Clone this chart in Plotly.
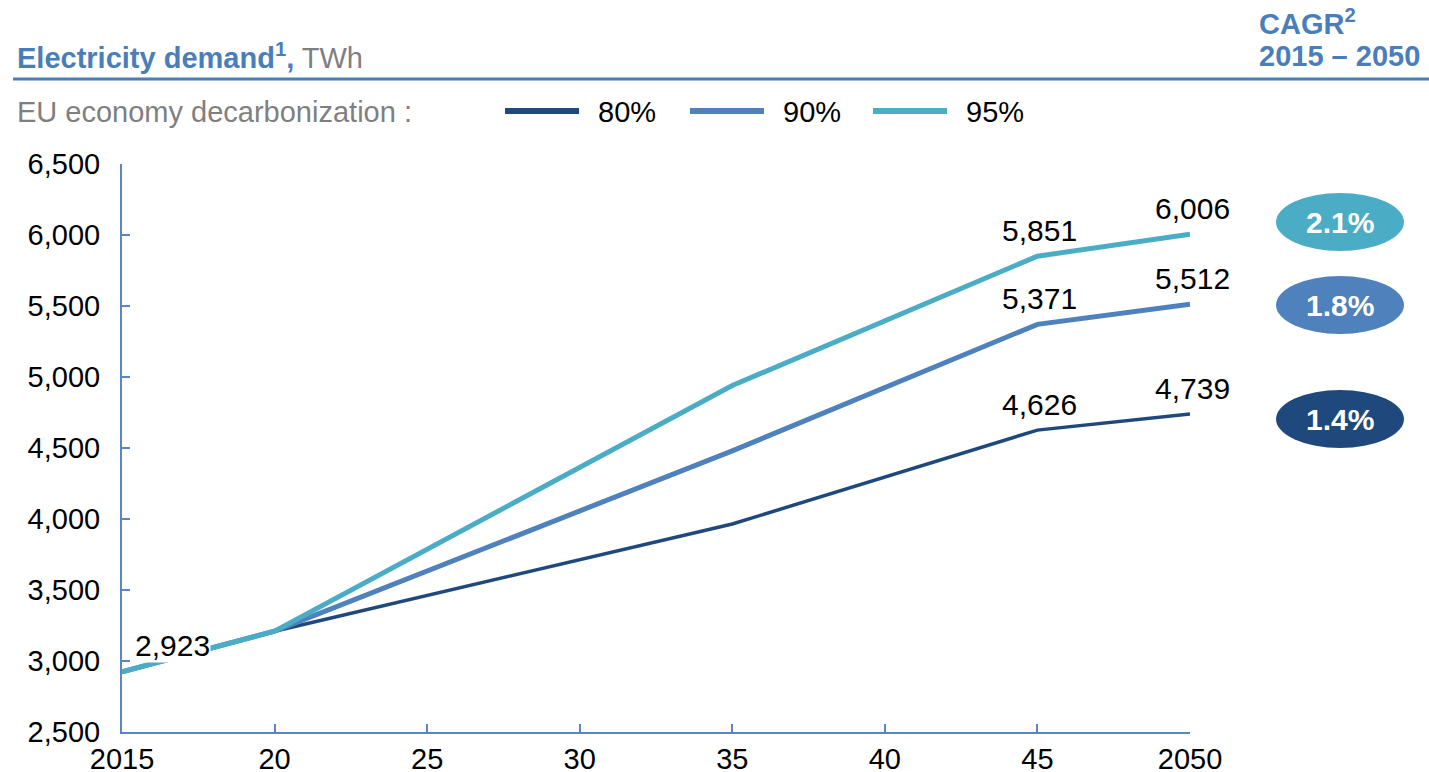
import plotly.graph_objects as go

years = [2015, 2020, 2035, 2045, 2050]
series_names = ["80%", "90%", "95%"]
demand_80 = [2923, 3210, 3965, 4626, 4739]
demand_90 = [2923, 3210, 4480, 5371, 5512]
demand_95 = [2923, 3210, 4940, 5851, 6006]
cagr = ["1.4%", "1.8%", "2.1%"]
colors = ["#1F497D", "#4F81BD", "#4BACC6"]
widths = [3.5, 5, 5]
x_tickvals = [2015, 2020, 2025, 2030, 2035, 2040, 2045, 2050]
x_ticktext = ["2015", "20", "25", "30", "35", "40", "45", "2050"]
y_tickvals = [2500, 3000, 3500, 4000, 4500, 5000, 5500, 6000, 6500]

W, H = 1429, 772
L, R, T, B = 122, 1190, 164, 732

def px(x):
    return (x - L) / (R - L)

def py(y):
    return (B - y) / (B - T)

FONT = "Liberation Sans, Arial, sans-serif"
fig = go.Figure()
all_series = [demand_80, demand_90, demand_95]
for name, vals, c, w in zip(series_names, all_series, colors, widths):
    fig.add_trace(go.Scatter(x=years, y=vals, mode="lines", name=name,
                             line=dict(color=c, width=w), cliponaxis=False,
                             showlegend=False, hoverinfo="skip"))

# data labels at 2045 and 2050
for vals in all_series:
    for i in (3, 4):
        fig.add_annotation(x=years[i], y=vals[i], text=f"{vals[i]:,}", showarrow=False,
                           yanchor="bottom", yshift=7, xshift=2,
                           font=dict(family=FONT, size=30, color="black"))
# 2015 label with white background
fig.add_annotation(x=years[0], y=demand_80[0], text=f"{demand_80[0]:,}", showarrow=False,
                   xanchor="center", yanchor="middle", xshift=50, yshift=26,
                   bgcolor="white", borderpad=0,
                   font=dict(family=FONT, size=30, color="black"))

axis_color = "#5B86C5"
fig.update_xaxes(range=[2015, 2050], tickvals=x_tickvals, ticktext=x_ticktext,
                 showgrid=False, zeroline=False, showline=True, linecolor=axis_color,
                 linewidth=2, ticks="inside", ticklen=8, tickcolor=axis_color, tickwidth=2,
                 automargin=False,
                 tickfont=dict(family=FONT, size=29, color="black"))
fig.update_yaxes(range=[2500, 6500], tickvals=y_tickvals, tickformat=",",
                 showgrid=False, zeroline=False, showline=True, linecolor=axis_color,
                 linewidth=2, ticks="inside", ticklen=8, tickcolor=axis_color, tickwidth=2,
                 automargin=False, ticklabelstandoff=14,
                 tickfont=dict(family=FONT, size=29, color="black"))

blue = "#4A7EBB"
# Title
fig.add_annotation(xref="paper", yref="paper", x=px(15), y=py(56), xanchor="left", yanchor="middle",
                   text="<b>Electricity demand<sup style='font-size:20px'>1</sup>,</b> <span style='color:#7F7F7F'>TWh</span>",
                   showarrow=False, font=dict(family=FONT, size=29, color=blue))
fig.add_annotation(xref="paper", yref="paper", x=px(1257), y=py(22), xanchor="left", yanchor="middle",
                   text="<b>CAGR<sup style='font-size:20px'>2</sup></b>",
                   showarrow=False, font=dict(family=FONT, size=29, color=blue))
fig.add_annotation(xref="paper", yref="paper", x=px(1257), y=py(56), xanchor="left", yanchor="middle",
                   text="<b>2015 – 2050</b>",
                   showarrow=False, font=dict(family=FONT, size=29, color=blue))
fig.add_shape(type="line", xref="paper", yref="paper", x0=px(13), x1=px(1429), y0=py(79), y1=py(79),
              line=dict(color=blue, width=3))
# Legend row
fig.add_annotation(xref="paper", yref="paper", x=px(15), y=py(112), xanchor="left", yanchor="middle",
                   text="EU economy decarbonization :", showarrow=False,
                   font=dict(family=FONT, size=29, color="#7F7F7F"))
leg_x = [505, 690, 873]
for name, c, lx in zip(series_names, colors, leg_x):
    fig.add_shape(type="line", xref="paper", yref="paper", x0=px(lx), x1=px(lx + 74),
                  y0=py(111), y1=py(111), line=dict(color=c, width=6))
    fig.add_annotation(xref="paper", yref="paper", x=px(lx + 91), y=py(112), xanchor="left",
                       yanchor="middle", text=name, showarrow=False,
                       font=dict(family=FONT, size=29, color="black"))
# CAGR ellipses
ell_centers = [419, 305, 222]
for txt, c, cy in zip(cagr, colors, ell_centers):
    fig.add_shape(type="circle", xref="paper", yref="paper", x0=px(1276), x1=px(1404),
                  y0=py(cy + 29), y1=py(cy - 29), fillcolor=c, line=dict(width=0))
    fig.add_annotation(xref="paper", yref="paper", x=px(1340), y=py(cy), xanchor="center",
                       yanchor="middle", text=f"<b>{txt}</b>", showarrow=False,
                       font=dict(family=FONT, size=30, color="white"))

fig.update_layout(width=W, height=H, margin=dict(l=L, r=W - R, t=T, b=H - B),
                  plot_bgcolor="white", paper_bgcolor="white", showlegend=False)
fig.write_html("out.html")
